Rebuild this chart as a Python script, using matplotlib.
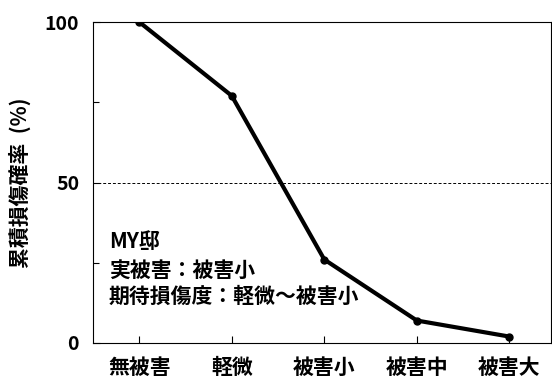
import matplotlib
matplotlib.use("Agg")
import matplotlib.pyplot as plt

plt.rcParams['font.family'] = ['Noto Sans CJK JP', 'DejaVu Sans']

categories = ["無被害", "軽微", "被害小", "被害中", "被害大"]
probability = [100, 77, 26, 7, 2]
yticks = [0, 50, 100]

fig = plt.figure(figsize=(5.52, 3.84), dpi=100)
ax = fig.add_axes([93 / 552, 1 - 343 / 384, 458 / 552, 321 / 384])

ax.plot(range(len(categories)), probability, color="black", lw=3,
        marker="o", ms=5, solid_joinstyle="round")
ax.axhline(50, color="black", lw=0.7, ls=(0, (3, 2)))

ax.set_xlim(-0.5, 4.45)
ax.set_ylim(0, 100)
ax.set_xticks(range(len(categories)))
ax.set_xticklabels(categories, fontsize=15, fontweight="bold")
ax.set_yticks(yticks)
ax.set_yticklabels([str(v) for v in yticks], fontsize=14, fontweight="bold")
ax.set_yticks([25, 75], minor=True)
ax.tick_params(direction="in", length=5, width=0.8, pad=10)
ax.tick_params(which="minor", direction="in", length=4, width=0.8)
ax.set_ylabel("累積損傷確率  (%)", fontsize=15, fontweight="bold", labelpad=10)
for s in ax.spines.values():
    s.set_linewidth(0.8)

for y, txt in [(0.315, "MY邸"), (0.227, "実被害：被害小"), (0.146, "期待損傷度：軽微～被害小")]:
    ax.text(0.035, y, txt, transform=ax.transAxes, fontsize=15,
            fontweight="bold", va="center")

fig.savefig("out.png", dpi=100)
